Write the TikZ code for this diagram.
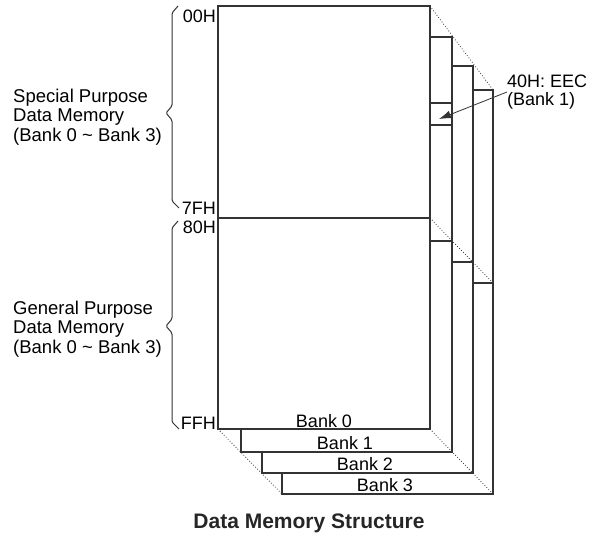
\documentclass[tikz,border=0pt]{standalone}
\usepackage{fontspec}
\setmainfont{Liberation Sans}
\usetikzlibrary{arrows.meta}

\begin{document}
\begin{tikzpicture}[x=1pt,y=-1pt,
        bank/.style={draw=black!80, line width=1.1pt},
        guide/.style={draw=black!80, dotted, line width=0.8pt},
        brace/.style={draw=black!80, line width=1pt, rounded corners=1.5pt},
        addr/.style={anchor=east, inner sep=0pt, font=\fontsize{18}{19}\selectfont},
        note/.style={anchor=west, align=left, inner sep=0pt, font=\fontsize{18.5}{19.5}\selectfont},
        banklabel/.style={anchor=base, inner sep=0pt, font=\fontsize{18}{19}\selectfont},
        ]
        \useasboundingbox (0,0) rectangle (593,537);

        % dotted guides behind the banks
        \draw[guide] (430,6) -- (493,90);
        \draw[guide] (430,218) -- (493,283);
        \draw[guide] (430,429) -- (493,494);
        \draw[guide] (218,429) -- (282,494);

        % bank 3
        \draw[bank] (473,90) -- (493,90) -- (493,494) -- (282,494) -- (282,473);
        \draw[bank] (473,283) -- (493,283);
        % bank 2
        \draw[bank] (452,66) -- (473,66) -- (473,473) -- (262,473) -- (262,452);
        \draw[bank] (452,262) -- (473,262);
        % bank 1
        \draw[bank] (430,37) -- (452,37) -- (452,452) -- (241,452) -- (241,429);
        \draw[bank] (430,241) -- (452,241);
        \draw[bank] (430,103) rectangle (452,125);
        % bank 0
        \draw[bank] (218,6) rectangle (430,429);
        \draw[bank] (218,218) -- (430,218);

        \node[banklabel] (bank0) at (324,427) {Bank 0};
        \node[banklabel] (bank1) at (345,449) {Bank 1};
        \node[banklabel] (bank2) at (365,470) {Bank 2};
        \node[banklabel] (bank3) at (385,491) {Bank 3};

        % addresses
        \node[addr] (a00) at (216,16) {00H};
        \node[addr] (a7f) at (216,208) {7FH};
        \node[addr] (a80) at (216,227) {80H};
        \node[addr] (aff) at (216,423) {FFH};

        % braces
        \draw[brace] (178,6) -- (172,13) -- (172,106) -- (166,113) -- (172,120) -- (172,201) -- (179,208);
        \draw[brace] (178,221) -- (172,228) -- (172,319) -- (166,326) -- (172,333) -- (172,422) -- (179,429);

        \node[note] (special) at (13,117) {Special Purpose\\Data Memory\\(Bank 0 \textasciitilde{} Bank 3)};
        \node[note] (general) at (13,329) {General Purpose\\Data Memory\\(Bank 0 \textasciitilde{} Bank 3)};

        % EEC pointer
        \node[note, font=\fontsize{18}{17.5}\selectfont] (eec) at (507,92) {40H: EEC\\(Bank 1)};
        \coordinate (eecreg) at (439,119);
        \draw[black!80, line width=0.8pt, -{Latex[length=12pt,width=8pt]}] (eec.west) -- (eecreg);

        \node[font=\bfseries\fontsize{21}{24}\selectfont, text=black!85] (title) at (309,523) {Data Memory Structure};
    \end{tikzpicture}
\end{document}
